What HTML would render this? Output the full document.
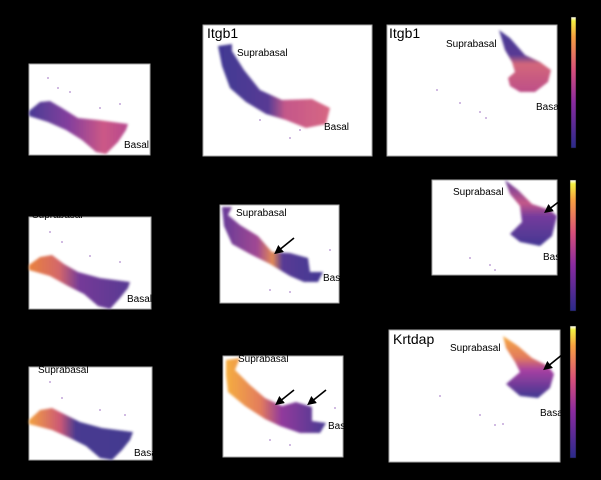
<!DOCTYPE html>
<html><head><meta charset="utf-8"><style>
html,body{margin:0;padding:0;background:#000;}
svg{display:block;}
text{font-family:"Liberation Sans",sans-serif;fill:#000;}
</style></head><body>
<svg width="601" height="480" viewBox="0 0 601 480" xmlns="http://www.w3.org/2000/svg">
<defs>
<filter id="bl" x="-10%" y="-10%" width="120%" height="120%"><feGaussianBlur stdDeviation="1.2"/></filter>
<linearGradient id="cb" x1="0" y1="1" x2="0" y2="0">
<stop offset="0" stop-color="#2a2a8a"/><stop offset="0.35" stop-color="#8a2aa0"/><stop offset="0.6" stop-color="#d8507a"/><stop offset="0.85" stop-color="#f7a040"/><stop offset="0.97" stop-color="#f4f040"/><stop offset="1" stop-color="#fff"/>
</linearGradient>
<linearGradient id="g1" x1="0" y1="0" x2="1" y2="0"><stop offset="0" stop-color="#3a2c8c"/><stop offset="0.4" stop-color="#7a2e95"/><stop offset="0.75" stop-color="#c84a7c"/><stop offset="1" stop-color="#b03a86"/></linearGradient>
<linearGradient id="g4" x1="0" y1="0" x2="1" y2="0"><stop offset="0" stop-color="#e8782e"/><stop offset="0.3" stop-color="#d05a5e"/><stop offset="0.5" stop-color="#6a2a90"/><stop offset="1" stop-color="#4a2a8a"/></linearGradient>
<linearGradient id="g7" x1="0" y1="0" x2="1" y2="0"><stop offset="0" stop-color="#f29a30"/><stop offset="0.3" stop-color="#c84a6a"/><stop offset="0.45" stop-color="#3a2a88"/><stop offset="1" stop-color="#342a86"/></linearGradient>
<linearGradient id="g2" x1="0" y1="0" x2="1" y2="0"><stop offset="0" stop-color="#30288a"/><stop offset="0.45" stop-color="#4a2c8c"/><stop offset="0.6" stop-color="#c04a80"/><stop offset="1" stop-color="#d45a78"/></linearGradient>
<linearGradient id="g5" x1="0" y1="0" x2="1" y2="0"><stop offset="0" stop-color="#5a2a90"/><stop offset="0.35" stop-color="#9a3a8a"/><stop offset="0.5" stop-color="#e08048"/><stop offset="0.6" stop-color="#4a2a8c"/><stop offset="1" stop-color="#34288a"/></linearGradient>
<linearGradient id="g8" x1="0" y1="0" x2="1" y2="0"><stop offset="0" stop-color="#f5a830"/><stop offset="0.35" stop-color="#e07050"/><stop offset="0.55" stop-color="#8a2a94"/><stop offset="1" stop-color="#3a2a8a"/></linearGradient>
<linearGradient id="g3" x1="0" y1="0" x2="0" y2="1"><stop offset="0" stop-color="#3a2c8c"/><stop offset="0.4" stop-color="#4a2c8c"/><stop offset="0.55" stop-color="#d05a70"/><stop offset="1" stop-color="#b8407e"/></linearGradient>
<linearGradient id="g6" x1="0" y1="0" x2="0" y2="1"><stop offset="0" stop-color="#5a2a90"/><stop offset="0.35" stop-color="#c04a80"/><stop offset="0.55" stop-color="#6a2a94"/><stop offset="1" stop-color="#34288a"/></linearGradient>
<linearGradient id="g9" x1="0" y1="0" x2="0" y2="1"><stop offset="0" stop-color="#f5a030"/><stop offset="0.35" stop-color="#e07050"/><stop offset="0.55" stop-color="#a0309a"/><stop offset="1" stop-color="#302888"/></linearGradient>
<marker id="ah" markerUnits="userSpaceOnUse" markerWidth="9" markerHeight="9" refX="4" refY="4.5" orient="auto"><path d="M0,0 L9,4.5 L0,9 z" fill="#000"/></marker>
</defs>
<rect width="601" height="480" fill="#000"/>

<rect x="29" y="64" width="121" height="91" fill="#fff" stroke="#aaa"/>
<rect x="203" y="25" width="169" height="131" fill="#fff" stroke="#aaa"/>
<rect x="387" y="25" width="170" height="131" fill="#fff" stroke="#aaa"/>
<rect x="29" y="217" width="122" height="92" fill="#fff" stroke="#aaa"/>
<rect x="220" y="205" width="119" height="98" fill="#fff" stroke="#aaa"/>
<rect x="432" y="180" width="125" height="95" fill="#fff" stroke="#aaa"/>
<rect x="29" y="367" width="123" height="93" fill="#fff" stroke="#aaa"/>
<rect x="223" y="356" width="120" height="101" fill="#fff" stroke="#aaa"/>
<rect x="389" y="330" width="171" height="132" fill="#fff" stroke="#aaa"/>

<rect x="571" y="17" width="5" height="131" fill="url(#cb)" stroke="#111" stroke-width="0.5"/>
<rect x="570" y="180" width="6" height="131" fill="url(#cb)" stroke="#111" stroke-width="0.5"/>
<rect x="570" y="326" width="6" height="132" fill="url(#cb)" stroke="#111" stroke-width="0.5"/>

<g filter="url(#bl)" opacity="0.92">
<polygon fill="url(#g1)" points="29,111 40,102 50,101 62,108 78,118 98,120 128,124 126,130 118,142 106,154 96,152 82,140 66,130 48,122 29,116"/>
<polygon fill="url(#g4)" points="29,265 40,257 52,255 64,264 78,272 100,278 130,282 128,288 120,298 110,309 98,306 84,294 68,286 50,276 29,270"/>
<polygon fill="url(#g7)" points="29,420 40,410 52,408 64,414 80,422 102,428 133,432 130,440 122,450 112,460 100,458 86,446 70,438 52,430 29,424"/>
<polygon fill="url(#g2)" points="218,46 232,44 232,51 244,70 260,90 282,100 312,99 330,108 326,124 306,128 286,120 266,114 246,102 230,88 222,66"/>
<polygon fill="url(#g5)" points="222,207 232,207 228,215 240,225 258,236 272,252 290,253 308,258 310,272 323,272 318,282 304,282 290,276 270,264 250,254 232,244 224,226"/>
<polygon fill="url(#g8)" points="226,360 240,358 235,370 250,385 265,398 282,406 296,402 312,407 312,421 326,423 320,433 300,433 280,426 265,419 245,406 228,392 226,375"/>
<polygon fill="url(#g3)" points="499,30 510,38 525,55 540,62 551,70 548,82 535,92 520,92 510,86 508,78 515,72 512,62 505,50"/>
<polygon fill="url(#g6)" points="505,180 518,190 532,204 550,210 557,216 552,236 540,246 520,242 510,234 522,222 520,206 510,194"/>
<polygon fill="url(#g9)" points="503,336 518,346 532,358 548,366 554,374 550,388 538,398 520,396 506,384 520,372 515,362 506,348"/>
</g>

<g fill="#9a6ac0" opacity="0.6">
<circle cx="48" cy="78" r="1"/><circle cx="58" cy="88" r="1"/><circle cx="70" cy="92" r="1"/><circle cx="100" cy="108" r="1"/><circle cx="120" cy="104" r="1"/>
<circle cx="50" cy="232" r="1"/><circle cx="62" cy="242" r="1"/><circle cx="90" cy="256" r="1"/><circle cx="120" cy="262" r="1"/>
<circle cx="50" cy="382" r="1"/><circle cx="62" cy="398" r="1"/><circle cx="100" cy="410" r="1"/><circle cx="125" cy="415" r="1"/>
<circle cx="260" cy="120" r="1"/><circle cx="290" cy="138" r="1"/><circle cx="300" cy="130" r="1"/>
<circle cx="270" cy="290" r="1"/><circle cx="290" cy="292" r="1"/><circle cx="330" cy="250" r="1"/>
<circle cx="270" cy="440" r="1"/><circle cx="290" cy="445" r="1"/><circle cx="335" cy="408" r="1"/>
<circle cx="437" cy="90" r="1"/><circle cx="460" cy="103" r="1"/><circle cx="480" cy="112" r="1"/><circle cx="486" cy="118" r="1"/>
<circle cx="470" cy="258" r="1"/><circle cx="490" cy="265" r="1"/><circle cx="495" cy="270" r="1"/>
<circle cx="440" cy="396" r="1"/><circle cx="480" cy="415" r="1"/><circle cx="495" cy="425" r="1"/><circle cx="503" cy="424" r="1"/>
</g>

<g stroke="#000" stroke-width="1.6" marker-end="url(#ah)">
<line x1="294" y1="238" x2="278" y2="251"/>
<line x1="294" y1="390" x2="279" y2="402"/>
<line x1="326" y1="390" x2="311" y2="402"/>
<line x1="565" y1="197" x2="548" y2="210"/>
<line x1="563" y1="354" x2="547" y2="367"/>
</g>

<g font-size="10">
<text x="124" y="148">Basal</text>
<text x="237" y="56">Suprabasal</text>
<text x="324" y="130">Basal</text>
<text x="446" y="47">Suprabasal</text>
<text x="536" y="110">Basal</text>
<text x="32" y="218">Suprabasal</text>
<text x="127" y="302">Basal</text>
<text x="236" y="216">Suprabasal</text>
<text x="323" y="281">Basal</text>
<text x="453" y="195">Suprabasal</text>
<text x="543" y="260">Bas</text>
<text x="38" y="373">Suprabasal</text>
<text x="134" y="456">Basal</text>
<text x="238" y="362">Suprabasal</text>
<text x="328" y="429">Bas</text>
<text x="450" y="351">Suprabasal</text>
<text x="540" y="416">Basa</text>
</g>
<g font-size="14">
<text x="207" y="38">Itgb1</text>
<text x="389" y="38">Itgb1</text>
<text x="393" y="344">Krtdap</text>
</g>
</svg>
</body></html>
